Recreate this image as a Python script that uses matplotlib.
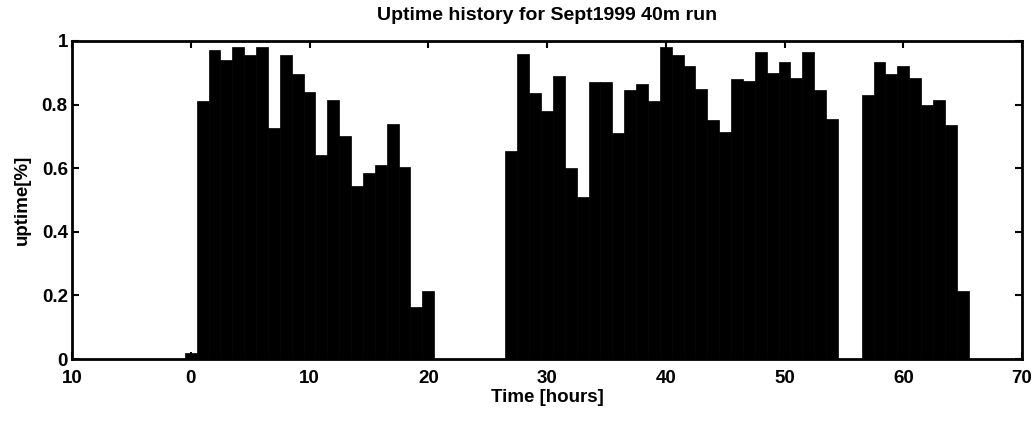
import numpy as np
import matplotlib
matplotlib.use('Agg')
import matplotlib.pyplot as plt

# uptime per hour of the run
hours = list(range(0, 66))
uptime = [0.02, 0.81, 0.97, 0.94, 0.98, 0.955, 0.98, 0.725, 0.955, 0.895,
          0.84, 0.64, 0.815, 0.70, 0.545, 0.585, 0.61, 0.74, 0.605, 0.165,
          0.215, 0, 0, 0, 0, 0, 0, 0.655, 0.96, 0.835,
          0.78, 0.89, 0.60, 0.51, 0.87, 0.87, 0.71, 0.845, 0.865, 0.81,
          0.98, 0.955, 0.92, 0.85, 0.75, 0.715, 0.88, 0.875, 0.965, 0.90,
          0.935, 0.885, 0.965, 0.845, 0.755, 0, 0, 0.83, 0.935, 0.895,
          0.92, 0.885, 0.80, 0.815, 0.735, 0.215]

xticks = [-10, 0, 10, 20, 30, 40, 50, 60, 70]
xtick_labels = ['10', '0', '10', '20', '30', '40', '50', '60', '70']
yticks = [0, 0.2, 0.4, 0.6, 0.8, 1]
ytick_labels = ['0', '0.2', '0.4', '0.6', '0.8', '1']

plt.rcParams['font.family'] = ['Liberation Sans', 'DejaVu Sans']
plt.rcParams['font.weight'] = 'bold'

fig = plt.figure(figsize=(10.36, 4.22), dpi=100)
ax = fig.add_axes([0.0695, 0.149, 0.917, 0.754])

ax.bar(hours, uptime, width=1.0, color='black', edgecolor='black', linewidth=0.5)

ax.set_xlim(-10, 70)
ax.set_ylim(0, 1)
ax.set_xticks(xticks)
ax.set_xticklabels(xtick_labels)
ax.set_yticks(yticks)
ax.set_yticklabels(ytick_labels)
ax.tick_params(axis='x', pad=8)
ax.tick_params(axis='y', pad=3)
ax.tick_params(direction='in', top=True, right=True, length=5, width=1.5,
               labelsize=13.5)
for s in ax.spines.values():
    s.set_linewidth(2)

ax.set_title('Uptime history for Sept1999 40m run', fontsize=14, fontweight='bold', pad=15)
ax.set_xlabel('Time [hours]', fontsize=13.5, fontweight='bold', labelpad=1)
ax.set_ylabel('uptime[%]', fontsize=13.5, fontweight='bold', labelpad=8)

fig.savefig('out.png', dpi=100)
